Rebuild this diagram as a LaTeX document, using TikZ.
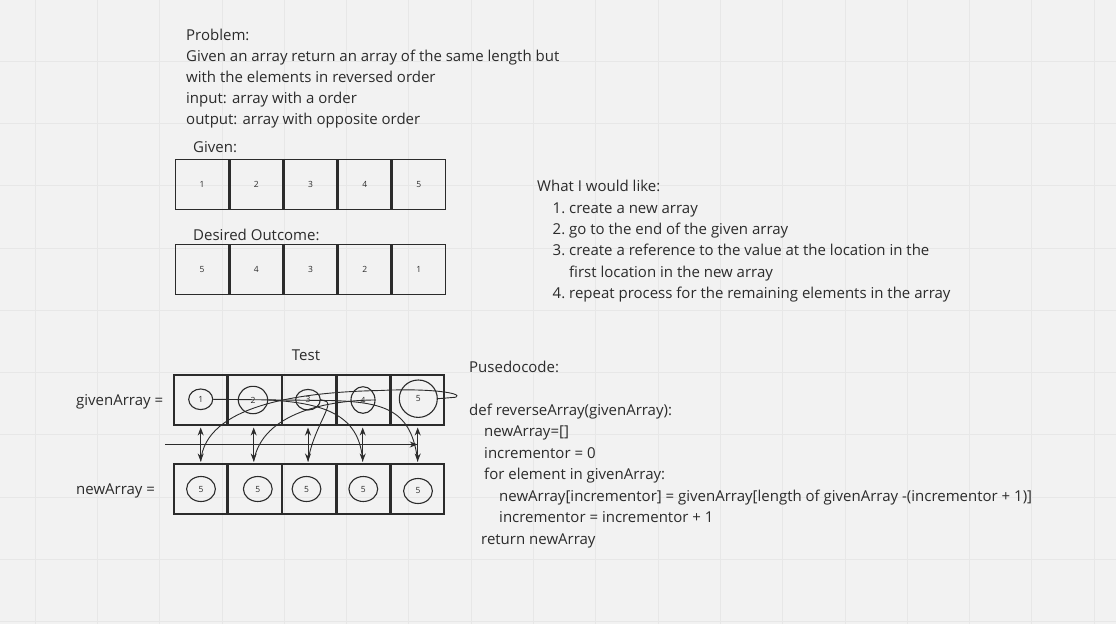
\documentclass[tikz,border=0pt]{standalone}
\usepackage{xcolor}
\usepackage{fontspec}
\setmainfont{Open Sans}
\usepackage{tikz}
\usetikzlibrary{shapes.geometric, arrows.meta, positioning, calc}

\definecolor{board}{HTML}{F2F2F2}
\definecolor{gridline}{HTML}{E7E7E7}
\definecolor{ink}{HTML}{2B2B2B}

\tikzset{
  txt/.style={anchor=base west, inner sep=0pt, text=ink, font=\fontsize{15}{21}\selectfont},
  cell/.style={draw=ink, line width=1.5pt, minimum width=53pt, minimum height=50pt, inner sep=0pt, text=ink, font=\fontsize{8.5}{8.5}\selectfont},
  elem/.style={ellipse, draw=ink, line width=1.1pt, inner sep=0pt, text=ink, font=\fontsize{8.5}{8.5}\selectfont},
  link/.style={draw=ink, line width=0.9pt},
  tip/.style={-{Stealth[length=8pt,width=6pt]}},
}

\begin{document}
\begin{tikzpicture}[x=1pt, y=-1pt]
    % board with faint grid
    \fill[board] (0,0) rectangle (1116,624);
    \useasboundingbox (0,0) rectangle (1116,624);
    \foreach \k in {0,...,17} \draw[gridline, line width=0.8pt] ({35+62.3*\k},0) -- ({35+62.3*\k},624);
    \foreach \k in {0,...,9} \draw[gridline, line width=0.8pt] (0,{61+62.3*\k}) -- (1116,{61+62.3*\k});

    % problem statement
    \node[txt] (prob) at (186,40) {Problem:};
    \node[txt] (prob1) at (186,61) {Given an array return an array of the same length but};
    \node[txt] (prob2) at (186,82) {with the elements in reversed order};
    \node[txt] (prob3) at (186,103) {input: array with a order};
    \node[txt] (prob4) at (186,124) {output: array with opposite order};

    % given and desired arrays
    \node[txt] (givenlbl) at (193,152.5) {Given:};
    \foreach \v [count=\i] in {1,2,3,4,5}
        \node[cell] (a\i) at ({175+54.2*(\i-0.5)},184.7) {\v};
    \node[txt] (desiredlbl) at (193,240) {Desired Outcome:};
    \foreach \v [count=\i] in {5,4,3,2,1}
        \node[cell] (b\i) at ({175+54.2*(\i-0.5)},269.3) {\v};

    % what I would like
    \node[txt] (wish) at (537,191.7) {What I would like:};
    \foreach \t [count=\i] in {create a new array, go to the end of the given array, create a reference to the value at the location in the}
        \node[txt] (wish\i) at (569,{191.7+21.3*\i}) {\t};
    \foreach \i/\y in {1/213, 2/234.3, 3/255.6, 4/298.3}
        \node[txt] (num\i) at (552.5,\y) {\i.};
    \node[txt] (wish3b) at (569,277) {first location in the new array};
    \node[txt] (wish4) at (569,298.3) {repeat process for the remaining elements in the array};

    % test arrays
    \node[txt, anchor=base] (test) at (306,360) {Test};
    \node[txt] (givenname) at (76,405) {givenArray =};
    \node[txt] (newname) at (76,494.3) {newArray =};
    \foreach \i in {1,...,5} {
        \node[cell] (g\i) at ({173.3+54.3*(\i-0.5)},400) {};
        \node[cell] (n\i) at ({173.3+54.3*(\i-0.5)},488.8) {};
    }
    \node[elem, minimum width=24pt, minimum height=20.6pt] (c1) at (200.7,399.3) {1};
    \node[elem, minimum width=29.4pt, minimum height=27.4pt] (c2) at (253,400) {2};
    \node[elem, minimum width=24.6pt, minimum height=20.6pt] (c3) at (308,399.7) {3};
    \node[elem, minimum width=24pt, minimum height=26.6pt] (c4) at (363,400) {4};
    \node[elem, minimum width=38pt, minimum height=37.4pt] (c5) at (418.3,398.7) {5};
    \foreach \x/\y [count=\i] in {201/489, 257.8/489, 306.5/489, 363.3/489, 418/491}
        \node[elem, minimum width=28.8pt, minimum height=25pt] (m\i) at (\x,\y) {5};

    % up and down arrows between the rows
    \foreach \x [count=\i] in {200.7,253.7,308,362.7,417.7} {
        \coordinate (u\i) at (\x,427.5);
        \coordinate (d\i) at (\x,461.5);
        \draw[link, {Stealth[length=8pt,width=6pt]}-{Stealth[length=8pt,width=6pt]}] (u\i) -- (d\i);
    }
    \coordinate (sweep) at (165,444.5);
    \draw[link, tip] (sweep) -- (d5 |- sweep);

    % references from the given array into the new array
    \draw[link] (c5.east) -- ++(18,-1.5) .. controls +(8,-4) and (430,388) .. (380,390.5)
        .. controls (300,392) and (205,405) .. (d1);
    \draw[link] (c4.east) .. controls (330,400) and (262,412) .. (d2);
    \draw[link] (c3.east) -- ++(6,2) .. controls +(6,4) and (312,432) .. (d3);
    \draw[link] (c2.east) .. controls (330,403) and (360,418) .. (d4);
    \draw[link] (c1.east) -- (330,400.5) .. controls (385,402) and (412,410) .. (d5);

    % pseudocode
    \node[txt] (pseudo) at (469,372) {Pusedocode:};
    \node[txt] (code1) at (469,415) {def reverseArray(givenArray):};
    \node[txt] (code2) at (484,436.5) {newArray=[]};
    \node[txt] (code3) at (484,458) {incrementor = 0};
    \node[txt] (code4) at (484,479.5) {for element in givenArray:};
    \node[txt] (code5) at (499,501) {newArray[incrementor] = givenArray[length of givenArray -(incrementor + 1)]};
    \node[txt] (code6) at (499,522.5) {incrementor = incrementor + 1};
    \node[txt] (code7) at (481,544) {return newArray};
\end{tikzpicture}
\end{document}
